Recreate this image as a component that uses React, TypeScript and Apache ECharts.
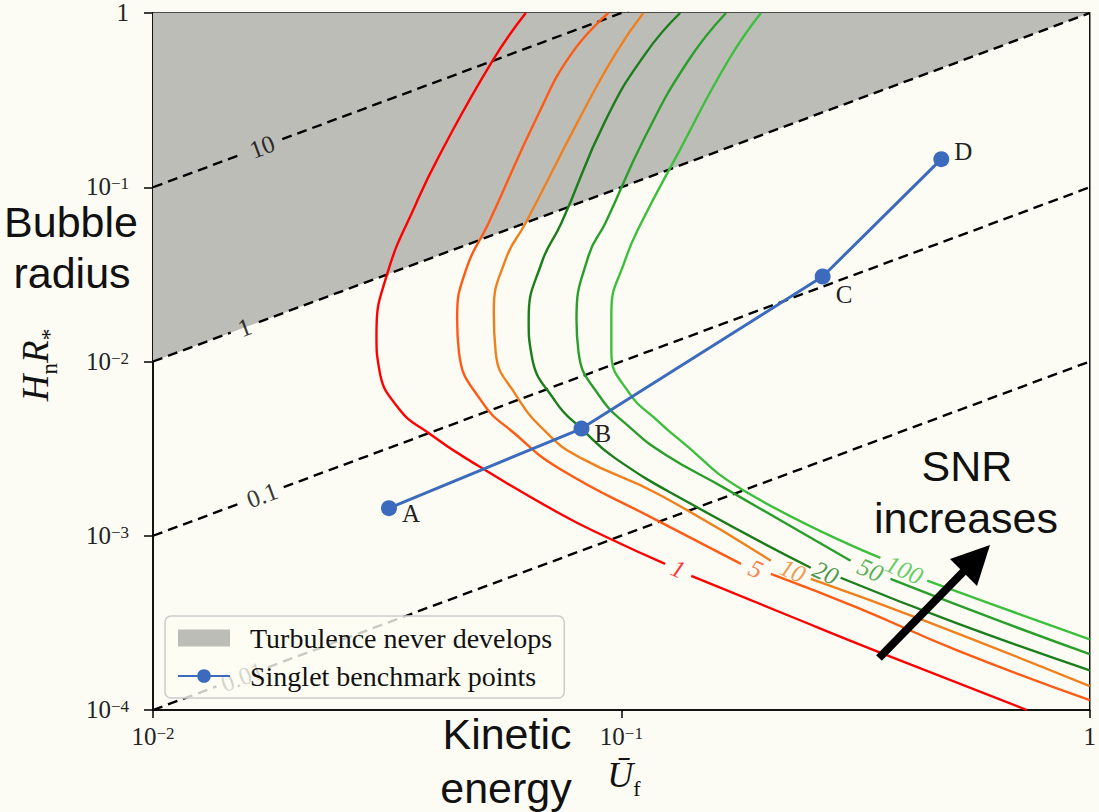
import React, { useEffect, useRef } from "react";
import * as echarts from "echarts";

type Pt = [number, number] | null;

// Axis ranges (log-log)
const U_MIN = 0.01;
const U_MAX = 1;
const R_MIN = 1e-4;
const R_MAX = 1;

// SNR contours: [U_f, H_n R_*]; null marks the break where the level label sits
const snrLevels = ["1", "5", "10", "20", "50", "100"];
const snrColors = ["#ff0000", "#ff5a14", "#f0801e", "#1b7d1b", "#2a9e2a", "#3cbf3c"];

const snr1: Pt[] = [
  [0.0625, 1.0], [0.0529, 0.525], [0.0408, 0.151], [0.0365, 0.0813], [0.0316, 0.0316],
  [0.03, 0.01416], [0.0304, 0.00906], [0.0335, 0.00536], [0.0389, 0.00386], [0.0466, 0.00278],
  [0.0735, 0.00135], [0.0938, 0.000971], [0.124, 0.00069], null,
  [0.141, 0.000589], [0.23, 0.000344], [0.347, 0.00022], [0.734, 0.0001],
];
const snr5: Pt[] = [
  [0.0938, 1.0], [0.0782, 0.583], [0.0666, 0.265], [0.0521, 0.0625], [0.0466, 0.0337],
  [0.0446, 0.01748], [0.045, 0.01133], [0.0504, 0.00587], [0.0595, 0.00381],
  [0.0735, 0.00244], [0.12, 0.001214], [0.18, 0.00069], null,
  [0.2085, 0.000605], [0.319, 0.000387], [0.521, 0.00022], [1.0, 0.000114],
];
const snr10: Pt[] = [
  [0.1114, 1.0], [0.0971, 0.583], [0.081, 0.242], [0.0625, 0.0625], [0.0566, 0.0385],
  [0.0534, 0.01916], [0.0539, 0.01133], [0.0595, 0.00644], [0.0699, 0.00381], [0.0822, 0.00278],
  [0.12, 0.00173], [0.2085, 0.000718], null,
  [0.2537, 0.000566], [0.4435, 0.000326], [1.0, 0.000137],
];
const snr20: Pt[] = [
  [0.1335, 1.0], [0.1125, 0.583], [0.0925, 0.242], [0.0745, 0.0625], [0.0676, 0.037],
  [0.0634, 0.01748], [0.0643, 0.0109], [0.0724, 0.00587], [0.0822, 0.00412], [0.0971, 0.00278],
  [0.141, 0.00152], [0.2537, 0.000655], null,
  [0.2938, 0.000574], [0.521, 0.000314], [1.0, 0.000169],
];
const snr50: Pt[] = [
  [0.1673, 1.0], [0.1389, 0.532], [0.1125, 0.196], [0.0925, 0.0625], [0.0851, 0.0405],
  [0.0802, 0.01748], [0.081, 0.01133], [0.0894, 0.00644], [0.105, 0.00412], [0.124, 0.00293],
  [0.1665, 0.00187], [0.3086, 0.000718], null,
  [0.3754, 0.000566], [0.6127, 0.00034], [1.0, 0.000209],
];
const snr100: Pt[] = [
  [0.1986, 1.0], [0.169, 0.532], [0.1322, 0.157], [0.1103, 0.0625], [0.102, 0.0385],
  [0.0952, 0.01916], [0.0952, 0.01133], [0.1035, 0.0067], [0.12, 0.00452], [0.1322, 0.00361],
  [0.1836, 0.0018], [0.3574, 0.000746], null,
  [0.4498, 0.000552], [0.6127, 0.000408], [1.0, 0.000254],
];
const snrCurves = [snr1, snr5, snr10, snr20, snr50, snr100];
const snrLabelAt: [number, number][] = [
  [0.1322, 0.000646], [0.1937, 0.000646], [0.2323, 0.000629],
  [0.273, 0.000613], [0.3403, 0.000637], [0.4021, 0.000637],
];

// Iso-lines H_n R_* = k * U_f
const isoRatios = [10, 1, 0.1, 0.01];
const isoLabels = ["10", "1", "0.1", "0.01"];
const isoLabelU = [0.0171, 0.0157, 0.0171, 0.0155];
const isoGapDecades = [0.043, 0.03, 0.046, 0.055];

// Region where turbulence never develops (above H_n R_* = U_f)
const turbulenceRegion: [number, number][] = [[0.01, 0.01], [1, 1], [0.01, 1]];

// Singlet benchmark points
const benchNames = ["A", "B", "C", "D"];
const benchU = [0.0319, 0.0822, 0.269, 0.482];
const benchR = [0.00144, 0.00412, 0.03075, 0.145];

const BG = "#fcfcf4";
const REGION = "#bdbdb8";
const BLUE = "#3c6bbd";
const SERIF = "Liberation Serif";
const SANS = "Liberation Sans";

function splitAtBreaks(pts: Pt[]): [number, number][][] {
  const out: [number, number][][] = [[]];
  pts.forEach((p) => {
    if (p === null) out.push([]);
    else out[out.length - 1].push(p);
  });
  return out;
}

function powerLabel(v: number): string {
  const e = Math.round(Math.log10(v));
  if (e === 0) return "{b|1}";
  return `{b|10}{s|\u2212${Math.abs(e)}}`;
}

const tickRich = {
  b: { fontFamily: SERIF, fontSize: 25, color: "#222", lineHeight: 24, verticalAlign: "bottom" as const },
  s: { fontFamily: SERIF, fontSize: 17, color: "#222", lineHeight: 14, verticalAlign: "top" as const },
};

export default function App() {
  const ref = useRef<HTMLDivElement>(null);

  useEffect(() => {
    if (!ref.current) return;
    const chart = echarts.init(ref.current, undefined, { renderer: "svg" });

    const series: any[] = [];

    series.push({
      type: "custom",
      name: "Turbulence never develops",
      z: 1,
      itemStyle: { color: REGION },
      data: [turbulenceRegion[0]],
      renderItem: (_params: any, api: any) => ({
        type: "polygon",
        shape: { points: turbulenceRegion.map((p) => api.coord(p)) },
        style: { fill: REGION },
      }),
    });

    isoRatios.forEach((k, i) => {
      const uA = isoLabelU[i] / Math.pow(10, isoGapDecades[i]);
      const uB = isoLabelU[i] * Math.pow(10, isoGapDecades[i]);
      const segs: [number, number][][] = [
        [[U_MIN, k * U_MIN], [uA, k * uA]],
        [[uB, k * uB], [U_MAX, k * U_MAX]],
      ];
      segs.forEach((seg) => {
        series.push({
          type: "line",
          z: 2,
          data: seg,
          showSymbol: false,
          silent: true,
          lineStyle: { color: "#000", width: 2.4, type: [10, 6] },
        });
      });
    });

    series.push({
      type: "scatter",
      z: 2,
      silent: true,
      symbolSize: 1,
      itemStyle: { color: "rgba(0,0,0,0)" },
      data: isoRatios.map((k, i) => [isoLabelU[i], k * isoLabelU[i]]),
      label: {
        show: true,
        position: "inside",
        rotate: 20.4,
        formatter: (p: any) => isoLabels[p.dataIndex],
        fontFamily: SERIF,
        fontSize: 25,
        color: "#000",
      },
    });

    snrCurves.forEach((curve, i) => {
      splitAtBreaks(curve).forEach((seg) => {
        series.push({
          type: "line",
          z: 3,
          data: seg,
          smooth: 0.5,
          showSymbol: false,
          silent: true,
          lineStyle: { color: snrColors[i], width: 2.4 },
        });
      });
    });

    series.push({
      type: "scatter",
      z: 3,
      silent: true,
      symbolSize: 1,
      itemStyle: { color: "rgba(0,0,0,0)" },
      data: snrLabelAt.map((p, i) => ({ value: p, label: { color: snrColors[i] } })),
      label: {
        show: true,
        position: "inside",
        rotate: -24,
        formatter: (p: any) => snrLevels[p.dataIndex],
        fontFamily: SERIF,
        fontStyle: "italic",
        fontSize: 25,
      },
    });

    const benchDy = [5, 5, 18, -8];
    series.push({
      type: "line",
      name: "Singlet benchmark points",
      z: 5,
      data: benchU.map((u, i) => ({
        value: [u, benchR[i]],
        label: { offset: [0, benchDy[i]] },
      })),
      symbol: "circle",
      symbolSize: 16,
      showSymbol: true,
      itemStyle: { color: BLUE },
      lineStyle: { color: BLUE, width: 3 },
      label: {
        show: true,
        position: "right",
        distance: 5,
        formatter: (p: any) => benchNames[p.dataIndex],
        fontFamily: SERIF,
        fontSize: 25,
        color: "#222",
      },
    });

    const axisLine = { show: true, lineStyle: { color: "#000", width: 1.5 } };

    chart.setOption({
      animation: false,
      backgroundColor: BG,
      grid: {
        left: 153,
        right: 6,
        top: 9,
        bottom: 102,
        show: true,
        borderColor: "#111",
        borderWidth: 1.5,
        backgroundColor: "transparent",
      },
      xAxis: {
        type: "log",
        logBase: 10,
        min: U_MIN,
        max: U_MAX,
        axisLine,
        axisTick: { show: true, inside: false, length: 8, lineStyle: { color: "#000", width: 1.5 } },
        minorTick: { show: false },
        splitLine: { show: false },
        axisLabel: { margin: 15, formatter: powerLabel, rich: tickRich },
      },
      yAxis: {
        type: "log",
        logBase: 10,
        min: R_MIN,
        max: R_MAX,
        axisLine,
        axisTick: { show: true, inside: false, length: 9, lineStyle: { color: "#000", width: 1.5 } },
        minorTick: { show: false },
        splitLine: { show: false },
        axisLabel: { margin: 24, formatter: powerLabel, rich: tickRich },
      },
      legend: {
        orient: "vertical",
        left: 165,
        top: 616,
        z: 10,
        selectedMode: false,
        data: [
          { name: "Turbulence never develops", icon: "rect" },
          { name: "Singlet benchmark points" },
        ],
        itemWidth: 52,
        itemHeight: 17,
        itemGap: 10,
        padding: [8, 12, 8, 12],
        backgroundColor: "rgba(252,252,244,0.8)",
        borderColor: "#cccccc",
        borderWidth: 1.5,
        borderRadius: 6,
        textStyle: { fontFamily: SERIF, fontSize: 28, color: "#111", padding: [0, 0, 0, 15] },
      },
      graphic: {
        elements: [
          {
            type: "text",
            x: 41,
            y: 365,
            rotation: Math.PI / 2,
            z: 50,
            style: {
              text: "{i|H}{s|n}{i|R}{s|*}",
              align: "center",
              verticalAlign: "middle",
              fill: "#111",
              rich: {
                i: { fontFamily: SERIF, fontStyle: "italic", fontSize: 37, lineHeight: 40, verticalAlign: "bottom", padding: [0, 0, 7, 0] },
                s: { fontFamily: SERIF, fontSize: 23, lineHeight: 22, verticalAlign: "bottom" },
              },
            },
          },
          {
            type: "text",
            x: 624,
            y: 781,
            z: 50,
            style: {
              text: "{i|\u016A}{s|f}",
              align: "center",
              verticalAlign: "middle",
              fill: "#111",
              rich: {
                i: { fontFamily: SERIF, fontStyle: "italic", fontSize: 36, lineHeight: 36, verticalAlign: "bottom", padding: [0, 0, 6, 0] },
                s: { fontFamily: SERIF, fontSize: 22, lineHeight: 22, verticalAlign: "bottom" },
              },
            },
          },
          ...[
            { t: "Bubble", x: 71, y: 222 },
            { t: "radius", x: 72, y: 273 },
            { t: "Kinetic", x: 507, y: 734 },
            { t: "energy", x: 506, y: 788 },
            { t: "SNR", x: 967, y: 466 },
            { t: "increases", x: 966, y: 518 },
          ].map((o) => ({
            type: "text",
            x: o.x,
            y: o.y,
            z: 50,
            style: {
              text: o.t,
              align: "center",
              verticalAlign: "middle",
              fontFamily: SANS,
              fontSize: 43,
              fill: "#111",
            },
          })),
          {
            type: "line",
            z: 50,
            shape: { x1: 879, y1: 658, x2: 966, y2: 569 },
            style: { stroke: "#000", lineWidth: 8 },
          },
          {
            type: "polygon",
            z: 50,
            shape: { points: [[990, 545], [950, 559], [977, 586]] },
            style: { fill: "#000" },
          },
        ],
      },
      series,
    });

    return () => chart.dispose();
  }, []);

  return (
    <div
      ref={ref}
      style={{ position: "fixed", left: 0, top: 0, width: 1099, height: 812, background: BG }}
    />
  );
}
